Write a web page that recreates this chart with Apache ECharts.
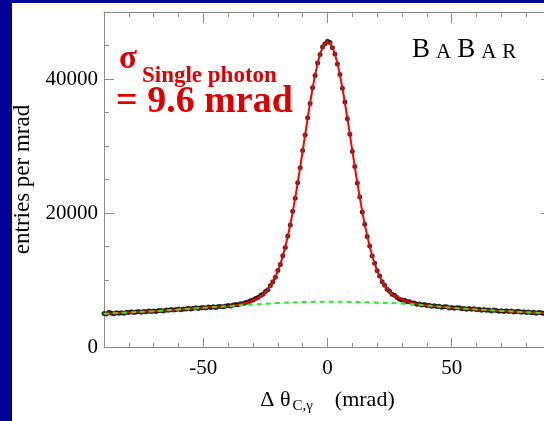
<!DOCTYPE html>
<html>
<head>
<meta charset="utf-8">
<script src="https://cdn.jsdelivr.net/npm/echarts@6/dist/echarts.min.js"></script>
<style>
  html, body { margin: 0; padding: 0; background: #fff; overflow: hidden; }
  #main { width: 560px; height: 421px; }
</style>
</head>
<body>
<div id="main"></div>
<script>
// bin centres, 1 mrad wide
const binCenters = [];
for (let x = -90; x <= 90; x++) binCenters.push(x);

// entries per mrad (-90 .. 90)
const entries = [
  4990, 4910, 5170, 5030, 4980, 5120, 5050, 5120, 5030, 5190,
  5140, 5260, 5150, 5230, 5300, 5190, 5300, 5270, 5390, 5280,
  5390, 5305, 5460, 5435, 5390, 5525, 5470, 5595, 5510, 5595,
  5660, 5555, 5690, 5655, 5790, 5675, 5780, 5855, 5740, 5845,
  5900, 5835, 5970, 5895, 5990, 5905, 6060, 6035, 6000, 6115,
  6180, 6115, 6255, 6348, 6294, 6455, 6463, 6650, 6730, 6906,
  7014, 7234, 7381, 7671, 7869, 8277, 8543, 9180, 9745, 10396,
  11427, 12326, 13629, 14865, 16557, 18221, 20274, 22203, 24533, 26751,
  29331, 31659, 34198, 36338, 38701, 40527, 42402, 43652, 44774, 45244,
  45640,
  45456, 44648, 43748, 42230, 40687, 38613, 36562, 34084, 31767, 29191,
  26926, 24493, 22378, 20144, 18336, 16497, 15070, 13579, 12491, 11367,
  10582, 9727, 9228, 8627, 8307, 7855, 7713, 7399, 7138, 7004,
  6963, 6774, 6761, 6571, 6560, 6376, 6407, 6261, 6328, 6180,
  6225, 6090, 6175, 6030, 6075, 5930, 5995, 5990, 5835, 5880,
  5765, 5850, 5865, 5710, 5755, 5630, 5735, 5630, 5705, 5550,
  5618, 5496, 5604, 5482, 5540, 5388, 5506, 5444, 5332, 5420,
  5312, 5414, 5296, 5368, 5210, 5312, 5344, 5176, 5248, 5160,
  5240, 5110, 5180, 5050, 5150, 5100, 5000, 5110, 4980, 5030
];

// fitted curve (red)
const fitX = [
  -90, -80, -70, -60, -50,
  -40, -39, -38, -37, -36, -35, -34, -33, -32, -31,
  -30, -29, -28, -27, -26, -25, -24, -23, -22, -21,
  -20, -19, -18, -17, -16, -15, -14, -13, -12, -11,
  -10, -9, -8, -7, -6, -5, -4, -3, -2, -1,
  0,
  1, 2, 3, 4, 5, 6, 7, 8, 9, 10,
  11, 12, 13, 14, 15, 16, 17, 18, 19, 20,
  21, 22, 23, 24, 25, 26, 27, 28, 29, 30,
  31, 32, 33, 34, 35, 36, 37, 38, 39, 40,
  50, 60, 70, 80, 90
];
const fitY = [
  4950, 5150, 5350, 5600, 5850,
  6100, 6155, 6205, 6258, 6324, 6395, 6483, 6580, 6690, 6816,
  6964, 7124, 7321, 7551, 7829, 8177, 8593, 9100, 9715, 10456,
  11337, 12366, 13569, 14945, 16507, 18251, 20174, 22263, 24493, 26841,
  29251, 31709, 34128, 36458, 38641, 40607, 42312, 43692, 44714, 45344,
  45560,
  45346, 44718, 43698, 42320, 40617, 38653, 36472, 34144, 31727, 29271,
  26866, 24523, 22298, 20214, 18296, 16557, 15000, 13629, 12431, 11407,
  10532, 9797, 9188, 8687, 8277, 7935, 7663, 7439, 7248, 7094,
  6943, 6814, 6701, 6601, 6510, 6436, 6367, 6311, 6258, 6200,
  5850, 5600, 5380, 5200, 5000
];

// background component (green dashed)
const bgX = [-90, -80, -70, -60, -50, -40, -30, -20, -10, 0, 10, 20, 30, 40, 50, 60, 70, 80, 90];
const bgY = [4950, 5150, 5350, 5600, 5850, 6100, 6350, 6550, 6700, 6760, 6720, 6620, 6480, 6200, 5850, 5600, 5380, 5200, 5000];

// ticks
const xLabels = [-50, 0, 50];
const xMajor = [-50, 0, 50];
const xMinor = [-80, -70, -60, -40, -30, -20, -10, 10, 20, 30, 40, 60, 70, 80];
const yLabels = [0, 20000, 40000];
const yMajor = [0, 20000, 40000];
const yMinor = [5000, 10000, 15000, 25000, 30000, 35000, 45000, 50000];

const serif = '"Liberation Serif", "Times New Roman", serif';
const gray = '#8a8a8a';
const red = '#dd0000';

const zip = (xs, ys) => xs.map((x, i) => [x, ys[i]]);

function tickAxis(pos, min, max, ticks, len, extra) {
  return Object.assign({
    type: 'value', position: pos, min: min, max: max,
    axisLine: { show: false, onZero: false },
    axisTick: { customValues: ticks, inside: true, length: len, lineStyle: { color: gray, width: 1 } },
    axisLabel: { show: false },
    splitLine: { show: false }
  }, extra || {});
}

const chart = echarts.init(document.getElementById('main'), null, { renderer: 'canvas' });

chart.setOption({
  animation: false,
  backgroundColor: '#fff',
  // plot runs past the right edge of the window, as in the original
  grid: { left: 104, right: 9, top: 12, bottom: 74 },
  xAxis: [
    tickAxis('bottom', -90, 90, xMajor, 9, {
      axisLine: { show: true, onZero: false, lineStyle: { color: gray, width: 1 } },
      axisLabel: { show: true, customValues: xLabels, margin: 11, color: '#000', fontFamily: serif, fontSize: 21 },
      name: '{a|Δ θ}{s|C,γ}{a|    (mrad)}',
      nameLocation: 'middle',
      nameGap: 40,
      nameTextStyle: {
        rich: {
          a: { fontFamily: serif, fontSize: 22, color: '#000', lineHeight: 26 },
          s: { fontFamily: serif, fontSize: 15, color: '#000', lineHeight: 26, padding: [12, 0, 0, 2] }
        }
      }
    }),
    tickAxis('bottom', -90, 90, xMinor, 4),
    tickAxis('top', -90, 90, xMajor, 11, { axisLine: { show: true, onZero: false, lineStyle: { color: gray, width: 1 } } }),
    tickAxis('top', -90, 90, xMinor, 5)
  ],
  yAxis: [
    tickAxis('left', 0, 50000, yMajor, 10, {
      axisLine: { show: true, onZero: false, lineStyle: { color: gray, width: 1 } },
      axisLabel: {
        show: true, customValues: yLabels, margin: 6, color: '#000', fontFamily: serif, fontSize: 21,
        formatter: v => String(v)
      },
      name: 'entries per mrad',
      nameLocation: 'middle',
      nameGap: 56,
      nameTextStyle: { fontFamily: serif, fontSize: 23, color: '#000' }
    }),
    tickAxis('left', 0, 50000, yMinor, 5),
    tickAxis('right', 0, 50000, yMajor, 10, { axisLine: { show: true, onZero: false, lineStyle: { color: gray, width: 1 } } })
  ],
  series: [
    {
      type: 'scatter', xAxisIndex: 0, yAxisIndex: 0,
      data: zip(binCenters, entries),
      symbol: 'circle', symbolSize: 5,
      itemStyle: { color: '#000' },
      z: 2, silent: true
    },
    {
      type: 'line', xAxisIndex: 0, yAxisIndex: 0,
      data: zip(fitX, fitY),
      showSymbol: false, smooth: false,
      lineStyle: { color: '#ff0000', width: 2 },
      z: 3, silent: true
    },
    {
      type: 'line', xAxisIndex: 0, yAxisIndex: 0,
      data: zip(bgX, bgY),
      showSymbol: false, smooth: true,
      lineStyle: { color: '#22ee22', width: 2, type: [5, 4] },
      z: 4, silent: true
    }
  ],
  graphic: [
    { type: 'rect', left: 0, top: 0, shape: { width: 12, height: 421 }, style: { fill: '#000096' }, silent: true },
    { type: 'rect', left: 0, top: 0, shape: { width: 560, height: 3 }, style: { fill: '#000096' }, silent: true },
    {
      type: 'text', x: 119, y: 76, silent: true,
      style: { text: 'σ', fill: red, font: 'bold 33px ' + serif, verticalAlign: 'bottom' }
    },
    {
      type: 'text', x: 142, y: 88, silent: true,
      style: { text: 'Single photon', fill: red, font: 'bold 23px ' + serif, verticalAlign: 'bottom' }
    },
    {
      type: 'text', x: 116, y: 121, silent: true,
      style: { text: '= 9.6 mrad', fill: red, font: 'bold 38px ' + serif, verticalAlign: 'bottom' }
    },
    {
      type: 'text', x: 412, y: 63, silent: true,
      style: {
        text: '{b|B}{a|A}{b|B}{a|A}{a|R}',
        verticalAlign: 'bottom',
        rich: {
          b: { fontFamily: serif, fontSize: 27, fill: '#000', padding: [0, 6, 0, 0], verticalAlign: 'bottom' },
          a: { fontFamily: serif, fontSize: 21, fill: '#000', padding: [0, 6, 0, 0], verticalAlign: 'bottom' }
        }
      }
    }
  ]
});
</script>
</body>
</html>
